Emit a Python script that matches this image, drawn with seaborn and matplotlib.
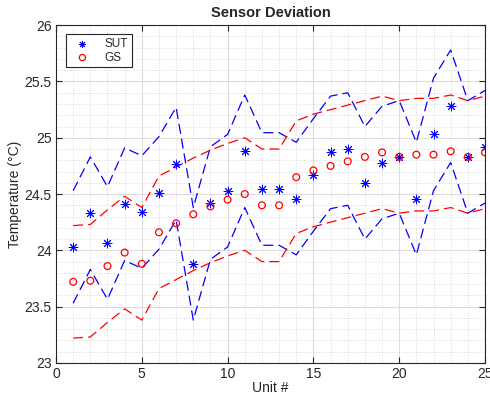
import numpy as np
import pandas as pd
import matplotlib
matplotlib.use("Agg")
import matplotlib.pyplot as plt
import seaborn as sns
from matplotlib.ticker import MultipleLocator, FuncFormatter

units = list(range(1, 26))
sut = [24.03, 24.33, 24.065, 24.41, 24.34, 24.51, 24.77, 23.88, 24.42, 24.53,
       24.88, 24.545, 24.545, 24.46, 24.67, 24.87, 24.90, 24.60, 24.78, 24.83,
       24.46, 25.03, 25.28, 24.83, 24.92]
gs = [23.72, 23.73, 23.86, 23.98, 23.88, 24.16, 24.24, 24.32, 24.39, 24.45,
      24.50, 24.40, 24.40, 24.65, 24.71, 24.75, 24.79, 24.83, 24.87, 24.83,
      24.85, 24.85, 24.88, 24.83, 24.87]
tolerance = 0.5

df = pd.DataFrame({"unit": units, "SUT": sut, "GS": gs})
df["SUT_hi"] = df["SUT"] + tolerance
df["SUT_lo"] = df["SUT"] - tolerance
df["GS_hi"] = df["GS"] + tolerance
df["GS_lo"] = df["GS"] - tolerance

sns.set_theme(style="white")
plt.rcParams["font.family"] = ["Liberation Sans", "DejaVu Sans"]

fig = plt.figure(figsize=(4.9, 3.94), dpi=100)
ax = fig.add_axes([0.1143, 0.079, 0.8755, 0.857])

dash = (8, 4)
sns.scatterplot(data=df, x="unit", y="SUT", ax=ax, marker=(8, 2, 0), color="#0000ff",
                s=40, linewidth=0.7, edgecolor="#0000ff", label="SUT", zorder=4)
sns.scatterplot(data=df, x="unit", y="GS", ax=ax, marker="o", facecolor="none",
                edgecolor="#ff0000", s=24, linewidth=0.9, label="GS", zorder=4)
for col, c in [("SUT_hi", "#0000ff"), ("SUT_lo", "#0000ff"), ("GS_hi", "#ff0000"), ("GS_lo", "#ff0000")]:
    sns.lineplot(data=df, x="unit", y=col, ax=ax, color=c, linewidth=0.9,
                 dashes=False, legend=False, zorder=3).lines[-1].set_dashes(dash)

ax.set_xlim(0, 25)
ax.set_ylim(23, 26)
ax.xaxis.set_major_locator(MultipleLocator(5))
ax.xaxis.set_minor_locator(MultipleLocator(1))
ax.yaxis.set_major_locator(MultipleLocator(0.5))
ax.yaxis.set_minor_locator(MultipleLocator(0.1))
ax.yaxis.set_major_formatter(FuncFormatter(lambda v, p: f"{v:g}"))
ax.xaxis.set_major_formatter(FuncFormatter(lambda v, p: f"{v:g}"))
ax.grid(True, which="major", color="#dcdcdc", linewidth=0.8, linestyle="-", zorder=0)
ax.grid(True, which="minor", color="#cccccc", linewidth=0.6, linestyle=(0, (1, 2)), zorder=0)
ax.set_axisbelow(True)
for s in ax.spines.values():
    s.set_color("#262626")
    s.set_linewidth(0.8)
    s.set_visible(True)
ax.tick_params(which="major", direction="in", length=4, width=0.8, color="#262626",
               labelsize=10, labelcolor="#262626", top=True, right=True, bottom=True, left=True, pad=3)
ax.tick_params(which="minor", length=0)

ax.set_xlabel("Unit #", fontsize=10, color="#262626", labelpad=0)
ax.set_ylabel("Temperature (°C)", fontsize=10, color="#262626", labelpad=2)
ax.set_title("Sensor Deviation", fontsize=10.5, fontweight="bold", pad=6)

leg = ax.legend(loc="upper left", bbox_to_anchor=(0.023, 0.973), frameon=True, fancybox=False,
                edgecolor="#262626", fontsize=8.5, handlelength=2.2, handletextpad=0.8,
                borderpad=0.3, labelspacing=0.15, borderaxespad=0)
leg.get_frame().set_linewidth(0.8)
leg.get_frame().set_facecolor("white")
leg.get_frame().set_alpha(1)
for h in leg.legend_handles:
    h.set_sizes([20])

fig.savefig("out.png", dpi=100)
